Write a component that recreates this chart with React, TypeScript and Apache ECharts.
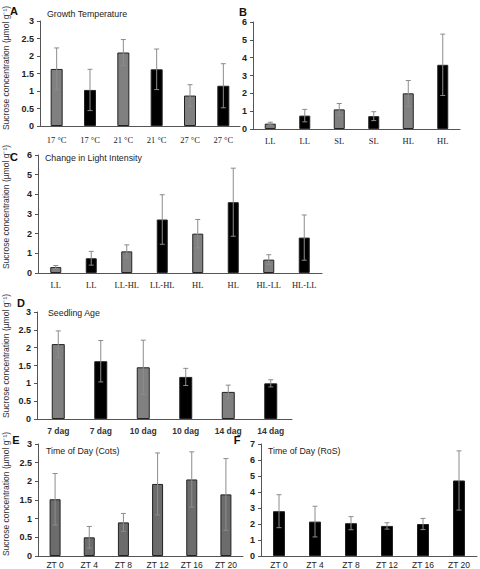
import React, { useEffect, useRef } from "react";
import * as echarts from "echarts";

// ---- Data ----
const catsA = ["17 °C", "17 °C", "21 °C", "21 °C", "27 °C", "27 °C"];
const valsA = [1.63, 1.03, 2.1, 1.62, 0.87, 1.15];
const errA = [0.6, 0.59, 0.37, 0.58, 0.31, 0.63];

const catsB = ["LL", "LL", "SL", "SL", "HL", "HL"];
const valsB = [0.3, 0.75, 1.1, 0.72, 2.0, 3.6];
const errB = [0.08, 0.35, 0.33, 0.25, 0.72, 1.72];

const catsC = ["LL", "LL", "LL-HL", "LL-HL", "HL", "HL", "HL-LL", "HL-LL"];
const valsC = [0.3, 0.75, 1.1, 2.72, 2.0, 3.6, 0.68, 1.8];
const errC = [0.08, 0.35, 0.33, 1.26, 0.72, 1.73, 0.25, 1.15];

const catsD = ["7 dag", "7 dag", "10 dag", "10 dag", "14 dag", "14 dag"];
const valsD = [2.1, 1.62, 1.45, 1.18, 0.76, 1.0];
const errD = [0.37, 0.58, 0.76, 0.24, 0.19, 0.1];

const catsE = ["ZT 0", "ZT 4", "ZT 8", "ZT 12", "ZT 16", "ZT 20"];
const valsE = [1.52, 0.5, 0.9, 1.93, 2.05, 1.65];
const errE = [0.69, 0.29, 0.24, 0.83, 0.74, 0.96];

const catsF = ["ZT 0", "ZT 4", "ZT 8", "ZT 12", "ZT 16", "ZT 20"];
const valsF = [2.8, 2.15, 2.05, 1.88, 2.0, 4.72];
const errF = [1.03, 0.96, 0.41, 0.2, 0.35, 1.85];

const titles = ["Growth Temperature", "", "Change in Light Intensity", "Seedling Age", "Time of Day (Cots)", "Time of Day (RoS)"];
const letters = ["A", "B", "C", "D", "E", "F"];
const yMax = [3, 6, 6, 3, 3, 7];
const yInterval = [0.5, 1, 1, 0.5, 0.5, 1];
const yTitle = "Sucrose concentration (µmol g⁻¹)";

const GRAY = "#808080";
const DARKGRAY = "#6c6c6c";
const BLACK = "#000000";

export default function App() {
  const ref = useRef<HTMLDivElement>(null);
  useEffect(() => {
    if (!ref.current) return;
    const chart = echarts.init(ref.current, null, { renderer: "svg" });

    const panels = [
      { cats: catsA, vals: valsA, err: errA, colorMode: "alt", labelFont: "serif" },
      { cats: catsB, vals: valsB, err: errB, colorMode: "alt", labelFont: "serif" },
      { cats: catsC, vals: valsC, err: errC, colorMode: "alt", labelFont: "serif" },
      { cats: catsD, vals: valsD, err: errD, colorMode: "alt", labelFont: "boldsans" },
      { cats: catsE, vals: valsE, err: errE, colorMode: "gray", labelFont: "sans" },
      { cats: catsF, vals: valsF, err: errF, colorMode: "black", labelFont: "sans" },
    ];

    const grids = [
      { left: 40, top: 21, width: 200, height: 105 },
      { left: 253, top: 22, width: 207, height: 107 },
      { left: 38, top: 155, width: 284, height: 118 },
      { left: 37, top: 312, width: 255, height: 107 },
      { left: 38, top: 444, width: 205, height: 114 },
      { left: 261, top: 444, width: 216, height: 114 },
    ];
    const barWidths = [12, 11, 11, 13, 11, 12];
    const labelMargins = [9, 7, 7, 7, 4, 4];

    const xAxes: any[] = [];
    const yAxes: any[] = [];
    const series: any[] = [];

    panels.forEach((p, i) => {
      let labelStyle: any = { fontFamily: "Liberation Serif", fontSize: 8.5, color: "#222" };
      if (p.labelFont === "boldsans") labelStyle = { fontFamily: "Liberation Sans", fontWeight: "bold", fontSize: 8.5, color: "#333" };
      if (p.labelFont === "sans") labelStyle = { fontFamily: "Liberation Sans", fontSize: 8.5, color: "#222" };
      xAxes.push({
        type: "category",
        gridIndex: i,
        data: p.cats,
        axisLine: { lineStyle: { color: "#555", width: 1 } },
        axisTick: { show: false },
        axisLabel: { ...labelStyle, margin: labelMargins[i], interval: 0 },
      });
      yAxes.push({
        type: "value",
        gridIndex: i,
        min: 0,
        max: yMax[i],
        interval: yInterval[i],
        splitLine: { show: false },
        axisLine: { show: true, lineStyle: { color: "#555", width: 1 } },
        axisTick: { show: true, length: 3, lineStyle: { color: "#555" } },
        axisLabel: { fontFamily: "Liberation Sans", fontWeight: "bold", fontSize: 9, color: "#222", margin: 6 },
      });
      const colorFor = (k: number) => {
        if (p.colorMode === "gray") return DARKGRAY;
        if (p.colorMode === "black") return BLACK;
        return k % 2 === 0 ? GRAY : BLACK;
      };
      series.push({
        type: "bar",
        xAxisIndex: i,
        yAxisIndex: i,
        barWidth: barWidths[i],
        data: p.vals.map((v, k) => ({
          value: v,
          itemStyle: { color: colorFor(k), borderColor: "#222", borderWidth: 1 },
        })),
      });
      series.push({
        type: "custom",
        xAxisIndex: i,
        yAxisIndex: i,
        z: 5,
        encode: { x: 0, y: 1 },
        data: p.vals.map((v, k) => [k, v, p.err[k]]),
        renderItem: (params: any, api: any) => {
          const x = api.value(0);
          const y = api.value(1);
          const e = api.value(2);
          const top = api.coord([x, y + e]);
          const bot = api.coord([x, Math.max(0, y - e)]);
          const cap = 2.5;
          const st = { stroke: "#8c8c8c", lineWidth: 1 };
          return {
            type: "group",
            children: [
              { type: "line", shape: { x1: top[0], y1: top[1], x2: bot[0], y2: bot[1] }, style: st },
              { type: "line", shape: { x1: top[0] - cap, y1: top[1], x2: top[0] + cap, y2: top[1] }, style: st },
              { type: "line", shape: { x1: bot[0] - cap, y1: bot[1], x2: bot[0] + cap, y2: bot[1] }, style: st },
            ],
          };
        },
      });
    });

    const titlePos = [
      [47, 14], [0, 0], [45, 158], [48, 313], [46, 451], [268, 451],
    ];
    const letterPos = [
      [14, 11], [243, 12], [14, 157], [21, 303], [16, 440], [237, 440],
    ];
    const yTitlePos = [
      [6, 68], null, [6, 207], [6, 356], [6, 494], null,
    ];

    const graphics: any[] = [];
    titles.forEach((t, i) => {
      if (t) {
        graphics.push({
          type: "text",
          x: titlePos[i][0],
          y: titlePos[i][1],
          style: { text: t, font: "8.8px 'Liberation Sans'", fill: "#222", textVerticalAlign: "middle" },
        });
      }
    });
    letters.forEach((l, i) => {
      graphics.push({
        type: "text",
        x: letterPos[i][0],
        y: letterPos[i][1],
        style: { text: l, font: "bold 11px 'Liberation Sans'", fill: "#111", textAlign: "center", textVerticalAlign: "middle" },
      });
    });
    yTitlePos.forEach((pos) => {
      if (!pos) return;
      graphics.push({
        type: "text",
        x: pos[0],
        y: pos[1],
        rotation: Math.PI / 2,
        style: { text: yTitle, font: "8.5px 'Liberation Sans'", fill: "#333", textAlign: "center", textVerticalAlign: "middle" },
      });
    });

    chart.setOption({
      animation: false,
      backgroundColor: "#ffffff",
      grid: grids.map((g) => ({ ...g, containLabel: false })),
      xAxis: xAxes,
      yAxis: yAxes,
      series,
      graphic: graphics,
    });
    return () => chart.dispose();
  }, []);
  return (
    <div
      ref={ref}
      style={{ position: "fixed", left: 0, top: 0, width: 480, height: 569, background: "#fff" }}
    />
  );
}
